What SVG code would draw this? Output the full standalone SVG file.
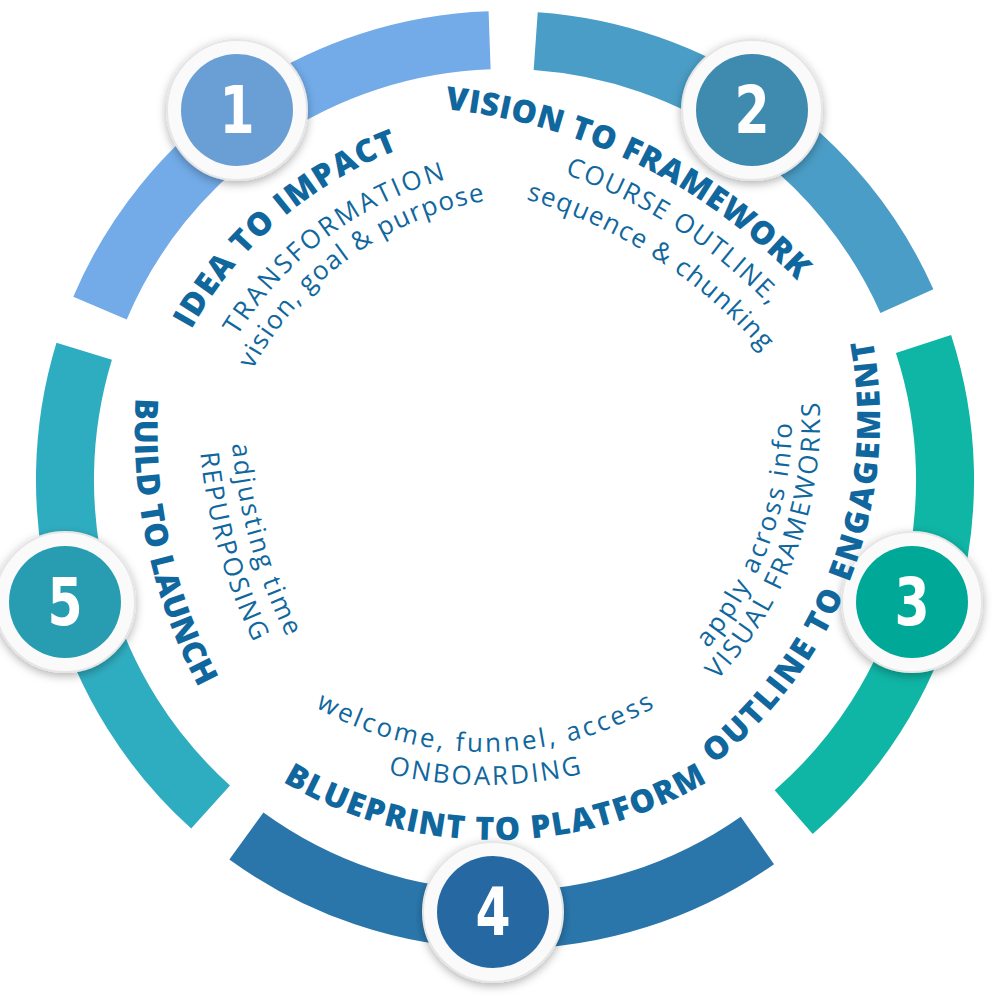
<svg xmlns="http://www.w3.org/2000/svg" width="1005" height="999" viewBox="0 0 1005 999">
<style>
.seg{fill:none;stroke-width:58}
.ttl{font-family:"Open Sans","DejaVu Sans",sans-serif;font-weight:800;font-size:32px;fill:#10679e}
.sub{font-family:"Open Sans","DejaVu Sans",sans-serif;font-weight:400;font-size:26px;fill:#10679e}
.ring{fill:#fafafa;stroke:#e6e6e6;stroke-width:2}
.num{font-family:"DejaVu Sans Condensed","Liberation Sans",sans-serif;font-weight:bold;font-size:66px;fill:#ffffff;text-anchor:middle}
</style>
<defs>
<filter id="sh" x="-30%" y="-30%" width="160%" height="160%"><feDropShadow dx="0" dy="3" stdDeviation="5" flood-color="#000" flood-opacity="0.3"/></filter>
<path id="p1" d="M142,496 A401,401 0 0 1 570,124"/>
<path id="p1a" d="M187.5,474.2 A358,358 0 0 1 591.8,169.5"/>
<path id="p1b" d="M218,472.7 A328,328 0 0 1 593.3,200"/>
<path id="p2" d="M198.4,137.2 A573,573 0 0 1 926.8,492.4"/>
<path id="p2a" d="M270.8,155.3 A536,536 0 0 1 908.7,564.8"/>
<path id="p2b" d="M278.5,190.5 A500,500 0 0 1 873.5,572.5"/>
<path id="p3" d="M590.5,833.5 A440,440 0 0 0 824.8,206.7"/>
<path id="p3a" d="M568.1,777.8 A380,380 0 0 0 770.1,231.7"/>
<path id="p3b" d="M557.5,751.8 A352,352 0 0 0 746.4,246.7"/>
<path id="p4" d="M79,424 A416,416 0 0 0 911,424"/>
<path id="p4a" d="M141,408 A344,344 0 0 0 829,408"/>
<path id="p4b" d="M65,365 A420,420 0 0 0 905,365"/>
<path id="p5" d="M221.2,135.9 A546,546 0 0 0 385.7,890.3"/>
<path id="p5a" d="M295.3,151.7 A515,515 0 0 0 494.9,852.1"/>
<path id="p5b" d="M268,134.3 A547,547 0 0 0 477.3,879"/>
</defs>
<rect width="1005" height="999" fill="#ffffff"/>
<g id="connectors">
<path class="seg" stroke="#72abe8" d="M100,308.1 A440,440 0 0 1 489.6,40.3"/>
<path class="seg" stroke="#4a9dc6" d="M535.7,41.1 A440,440 0 0 1 906.9,301.1"/>
<path class="seg" stroke="#0fb5a5" d="M923.5,344 A440,440 0 0 1 793.7,812.1"/>
<path class="seg" stroke="#2a76ab" d="M757.4,840.4 A440,440 0 0 1 246.4,836"/>
<path class="seg" stroke="#2fadc0" d="M210.6,807 A440,440 0 0 1 84.2,351.3"/>
</g>
<g id="node1">
<circle class="ring" cx="237" cy="110" r="70" filter="url(#sh)"/>
<circle cx="237" cy="110" r="56" fill="#6a9fd6"/>
<text class="num" transform="translate(237,133) scale(0.85,1)">1</text>
<text class="ttl"><textPath href="#p1" startOffset="50%" text-anchor="middle" textLength="280" lengthAdjust="spacing">IDEA TO IMPACT</textPath></text>
<text class="sub"><textPath href="#p1a" startOffset="50%" text-anchor="middle" textLength="267" lengthAdjust="spacing">TRANSFORMATION</textPath></text>
<text class="sub"><textPath href="#p1b" startOffset="50%" text-anchor="middle" textLength="297" lengthAdjust="spacing">vision, goal &amp; purpose</textPath></text>
</g>
<g id="node2">
<circle class="ring" cx="752" cy="110" r="70" filter="url(#sh)"/>
<circle cx="752" cy="110" r="56" fill="#3f8bb0"/>
<text class="num" transform="translate(752,133) scale(0.85,1)">2</text>
<text class="ttl"><textPath href="#p2" startOffset="50%" text-anchor="middle" textLength="400" lengthAdjust="spacing">VISION TO FRAMEWORK</textPath></text>
<text class="sub"><textPath href="#p2a" startOffset="50%" text-anchor="middle" textLength="245" lengthAdjust="spacing">COURSE OUTLINE,</textPath></text>
<text class="sub"><textPath href="#p2b" startOffset="50%" text-anchor="middle" textLength="285" lengthAdjust="spacing">sequence &amp; chunking</textPath></text>
</g>
<g id="node3">
<circle class="ring" cx="912" cy="602" r="70" filter="url(#sh)"/>
<circle cx="912" cy="602" r="56" fill="#00a898"/>
<text class="num" transform="translate(912,625) scale(0.85,1)">3</text>
<text class="ttl"><textPath href="#p3" startOffset="50%" text-anchor="middle" textLength="476" lengthAdjust="spacing">OUTLINE TO ENGAGEMENT</textPath></text>
<text class="sub"><textPath href="#p3a" startOffset="50%" text-anchor="middle" textLength="304" lengthAdjust="spacing">VISUAL FRAMEWORKS</textPath></text>
<text class="sub"><textPath href="#p3b" startOffset="50%" text-anchor="middle" textLength="245" lengthAdjust="spacing">apply across info</textPath></text>
</g>
<g id="node4">
<circle class="ring" cx="493" cy="912" r="70" filter="url(#sh)"/>
<circle cx="493" cy="912" r="56" fill="#2568a2"/>
<text class="num" transform="translate(493,935) scale(0.85,1)">4</text>
<text class="ttl"><textPath href="#p4" startOffset="50%" text-anchor="middle" textLength="446" lengthAdjust="spacing">BLUEPRINT TO PLATFORM</textPath></text>
<text class="sub"><textPath href="#p4a" startOffset="50%" text-anchor="middle" textLength="355" lengthAdjust="spacing">welcome, funnel, access</textPath></text>
<text class="sub"><textPath href="#p4b" startOffset="50%" text-anchor="middle" textLength="196" lengthAdjust="spacing">ONBOARDING</textPath></text>
</g>
<g id="node5">
<circle class="ring" cx="65" cy="602" r="70" filter="url(#sh)"/>
<circle cx="65" cy="602" r="56" fill="#289db2"/>
<text class="num" transform="translate(65,625) scale(0.85,1)">5</text>
<text class="ttl"><textPath href="#p5" startOffset="50%" text-anchor="middle" textLength="300" lengthAdjust="spacing">BUILD TO LAUNCH</textPath></text>
<text class="sub"><textPath href="#p5a" startOffset="50%" text-anchor="middle" textLength="202" lengthAdjust="spacing">adjusting time</textPath></text>
<text class="sub"><textPath href="#p5b" startOffset="50%" text-anchor="middle" textLength="198" lengthAdjust="spacing">REPURPOSING</textPath></text>
</g>
</svg>
